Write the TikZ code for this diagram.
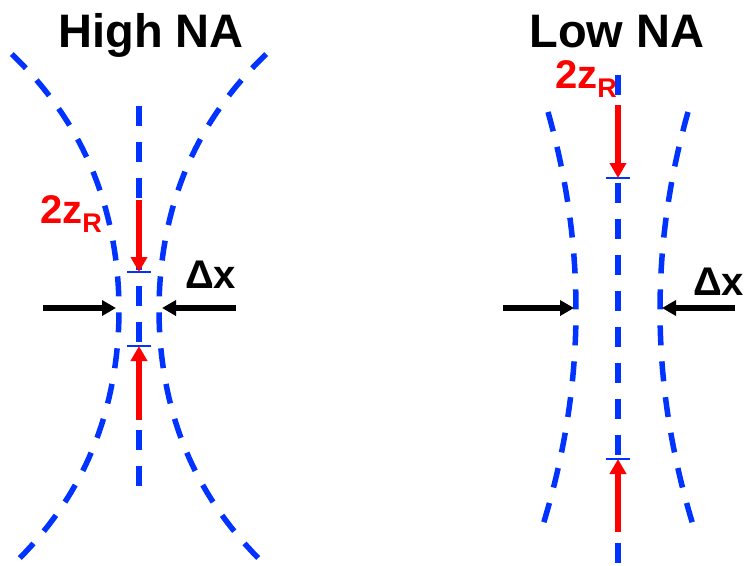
\documentclass[tikz,border=0pt]{standalone}
\usepackage{fontspec}
\setmainfont{Liberation Sans}
\usetikzlibrary{arrows.meta}
\usetikzlibrary{positioning}
\usepackage{xcolor}
\definecolor{beamblue}{RGB}{0,51,255}
\newcommand{\zrlabel}{2z\raisebox{-9pt}{\fontsize{27}{27}\selectfont R}}

\begin{document}
\begin{tikzpicture}[x=1pt,y=-1pt,
    beam/.style={beamblue, line width=5.5pt, dash pattern=on 20pt off 16pt},
    ztick/.style={beamblue, line width=2pt},
    zrarrow/.style={red, line width=5.5pt, -{Triangle[length=15pt,width=16pt]}},
    dxarrow/.style={black, line width=5.5pt, -{Triangle[length=14pt,width=15pt]}},
    title/.style={font=\bfseries\fontsize{47}{47}\selectfont, inner sep=0pt, anchor=base},
    lab/.style={font=\bfseries\fontsize{40}{40}\selectfont, inner sep=0pt, anchor=base west}]
  \useasboundingbox (0,0) rectangle (746,565);

  % high NA
  \node[title] (hightitle) at (151,47) {High NA};
  \draw[beam] plot[domain=-256:252, samples=60] ({139-20-20.4*(\x/128)^2-1.6*(\x/128)^4}, {310+\x});
  \draw[beam] plot[domain=-256:252, samples=60] ({139+20+20.4*(\x/128)^2+1.6*(\x/128)^4}, {310+\x});
  \coordinate (hightop) at (139,106);
  \coordinate (highbot) at (139,489);
  \draw[beam] (hightop) -- (highbot);
  \coordinate (hz1) at (139,272);
  \coordinate (hz2) at (139,346);
  \coordinate (hzstart1) at (139,200);
  \coordinate (hzstart2) at (139,420);
  \draw[ztick] ([xshift=-12pt]hz1) -- ([xshift=12pt]hz1);
  \draw[ztick] ([xshift=-12pt]hz2) -- ([xshift=12pt]hz2);
  \draw[zrarrow] (hzstart1) -- (hz1);
  \draw[zrarrow] (hzstart2) -- (hz2);
  \node[lab, red] (highzr) at (40,223) {\zrlabel};
  \coordinate (hdxl) at (43,308);
  \coordinate (hwl) at (116,308);
  \coordinate (hdxr) at (236,308);
  \coordinate (hwr) at (162,308);
  \draw[dxarrow] (hdxl) -- (hwl);
  \draw[dxarrow] (hdxr) -- (hwr);
  \node[lab] (highdx) at (185,288) {Δx};

  % low NA
  \node[title] (lowtitle) at (617,47) {Low NA};
  \draw[beam] plot[domain=-198:213, samples=50] ({618-42-28*(\x/198)^2}, {310+\x});
  \draw[beam] plot[domain=-198:213, samples=50] ({618+42+28*(\x/198)^2}, {310+\x});
  \coordinate (lowtop) at (618,75);
  \coordinate (lowbot) at (618,565);
  \draw[beam] (lowtop) -- (lowbot);
  \coordinate (lz1) at (618,178);
  \coordinate (lz2) at (618,459);
  \coordinate (lzstart1) at (618,105);
  \coordinate (lzstart2) at (618,532);
  \draw[ztick] ([xshift=-12pt]lz1) -- ([xshift=12pt]lz1);
  \draw[ztick] ([xshift=-12pt]lz2) -- ([xshift=12pt]lz2);
  \draw[zrarrow] (lzstart1) -- (lz1);
  \draw[zrarrow] (lzstart2) -- (lz2);
  \node[lab, red] (lowzr) at (555,88) {\zrlabel};
  \coordinate (ldxl) at (503,308);
  \coordinate (lwl) at (574,308);
  \coordinate (ldxr) at (735,308);
  \coordinate (lwr) at (662,308);
  \draw[dxarrow] (ldxl) -- (lwl);
  \draw[dxarrow] (ldxr) -- (lwr);
  \node[lab] (lowdx) at (693,295) {Δx};
\end{tikzpicture}
\end{document}
